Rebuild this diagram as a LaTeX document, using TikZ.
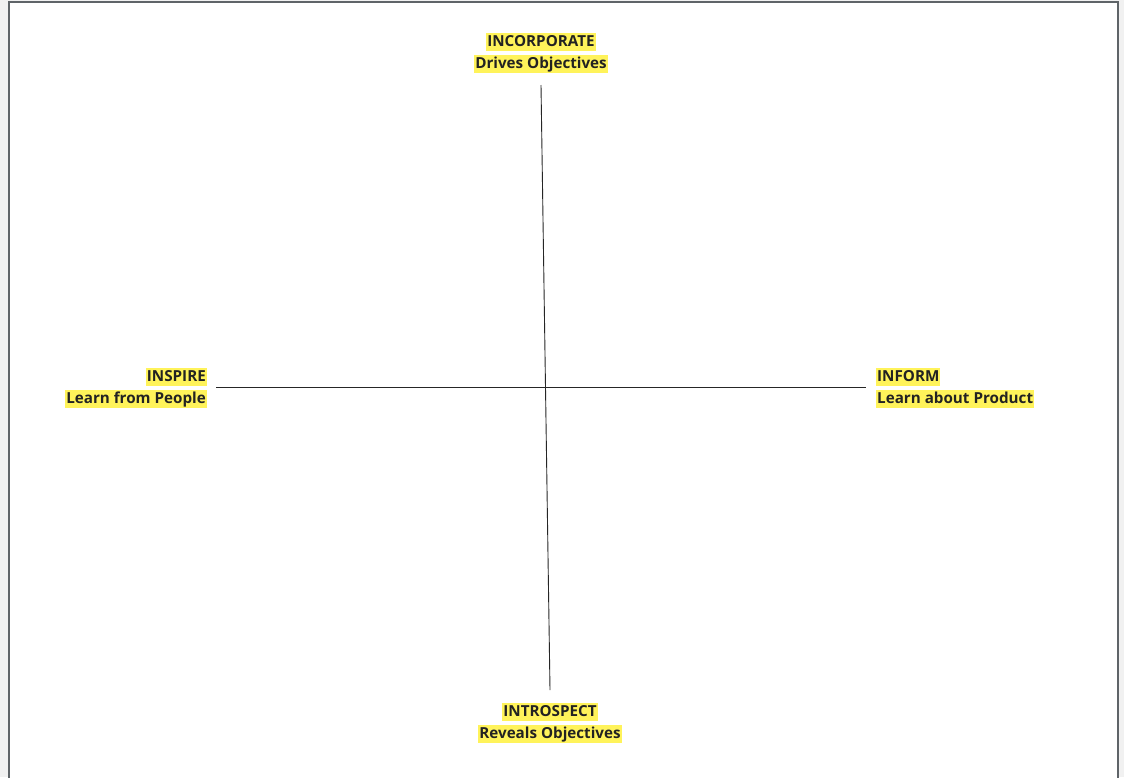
\documentclass[tikz,border=0pt]{standalone}
\usepackage{fontspec}
\setmainfont{Open Sans}
\definecolor{hlyellow}{HTML}{FFF35A}
\definecolor{txtc}{HTML}{222222}
\definecolor{framec}{HTML}{5F6468}
\definecolor{outbg}{HTML}{F1F1F1}
\tikzset{
  hl/.style={fill=hlyellow, text=txtc, inner xsep=1pt, inner ysep=0pt,
    text height=13.5pt, text depth=5pt,
    font=\fontsize{15.2}{18}\selectfont\bfseries},
  axis/.style={draw=black!85, line width=0.9pt}
}
\begin{document}
\begin{tikzpicture}[x=1pt,y=-1pt]
\useasboundingbox (0,0) rectangle (1124,777);
\clip (0,0) rectangle (1124,777);
\fill[outbg] (0,0) rectangle (1124,777);
\filldraw[fill=white, draw=framec, line width=2pt] (9,2) rectangle (1118,800);
% labels
\node[hl] (incA) at (541,42) {INCORPORATE};
\node[hl] (incB) at (541,64) {Drives Objectives};
\node[hl, anchor=east] (insA) at (207,377) {INSPIRE};
\node[hl, anchor=east] (insB) at (207,399) {Learn from People};
\node[hl, anchor=west] (infA) at (876,377) {INFORM};
\node[hl, anchor=west] (infB) at (876,399) {Learn about Product};
\node[hl] (intA) at (550,712) {INTROSPECT};
\node[hl] (intB) at (550,734) {Reveals Objectives};
% axes
\coordinate (vt) at (541,85);
\coordinate (vb) at (550,690);
\coordinate (hl) at (216,387);
\coordinate (hr) at (866,387);
\draw[axis] (vt) -- (vb);
\draw[axis] (hl) -- (hr);
\end{tikzpicture}
\end{document}
